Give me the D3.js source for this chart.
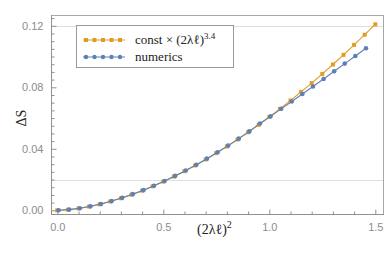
<!DOCTYPE html>
<html><head><meta charset="utf-8">
<script src="https://cdn.jsdelivr.net/npm/d3@7"></script>
<style>
body{margin:0;background:#fff}
svg{display:block}
text.lbl{font-family:"Times New Roman"}
</style>
</head><body>
<script>
// Data
const orangeX = [0,0.05,0.1,0.15,0.2,0.25,0.3,0.35,0.4,0.45,0.5,0.55,0.6,0.65,0.7,0.75,0.8,0.85,0.9,0.95,1.0,1.05,1.1,1.15,1.2,1.25,1.3,1.35,1.4,1.45,1.5];
const orangeY = [0,0.00037,0.00121,0.00241,0.00393,0.00575,0.00784,0.01019,0.01278,0.01562,0.01868,0.02197,0.02547,0.02918,0.0331,0.03722,0.04154,0.04605,0.05075,0.05563,0.0607,0.06595,0.07138,0.07698,0.08275,0.0887,0.09482,0.1011,0.1076,0.1142,0.12094];
const blueX = [0.006,0.056,0.106,0.156,0.206,0.256,0.306,0.356,0.406,0.456,0.506,0.556,0.606,0.656,0.706,0.756,0.806,0.856,0.906,0.956,1.006,1.056,1.106,1.156,1.206,1.256,1.306,1.356,1.406,1.456];
const blueY = [0.00001,0.00045,0.00134,0.00258,0.00414,0.00599,0.00811,0.01049,0.01311,0.01598,0.01907,0.02238,0.02591,0.02965,0.03358,0.03773,0.04207,0.0466,0.05132,0.0565,0.0611,0.066,0.0708,0.0756,0.0805,0.0854,0.0904,0.0954,0.1004,0.1054];
const xTicks = [0.0,0.5,1.0,1.5];
const xTickLabels = ["0.0","0.5","1.0","1.5"];
const yTicks = [0.00,0.04,0.08,0.12];
const yTickLabels = ["0.00","0.04","0.08","0.12"];
const gridY = [0.02,0.12];
const legendLabels = ["const × (2λℓ)", "numerics"];

const W=391,H=264;
const svg=d3.select("body").append("svg").attr("width",W).attr("height",H);
const L=51,R=383,T=15,B=214;
const x=d3.scaleLinear().domain([0,1.5]).range([57.3,375.3]);
const y=d3.scaleLinear().domain([0,0.12]).range([210.3,25.8]);
const orange="#E19C24", blue="#5E81B5";

// grid lines
svg.selectAll(".gy").data(gridY).enter().append("line")
  .attr("x1",L).attr("x2",R).attr("y1",d=>Math.round(y(d))+0.5).attr("y2",d=>Math.round(y(d))+0.5)
  .attr("stroke","#dedede").attr("stroke-width",1);

// frame top/right
svg.append("line").attr("x1",L).attr("x2",R).attr("y1",T+0.5).attr("y2",T+0.5).attr("stroke","#a8a8a8");
svg.append("line").attr("x1",R+0.5).attr("x2",R+0.5).attr("y1",T).attr("y2",B).attr("stroke","#a8a8a8");

// axes
const xMinor=d3.range(0,1.51,0.1).filter(v=>!xTicks.some(t=>Math.abs(t-v)<1e-6));
const yMinor=d3.range(0,0.1251,0.005).filter(v=>!yTicks.some(t=>Math.abs(t-v)<1e-6));
const xAxis=d3.axisBottom(x).tickValues(xTicks).tickFormat((d,i)=>xTickLabels[i]).tickSizeInner(-5).tickSizeOuter(0).tickPadding(9);
const yAxis=d3.axisLeft(y).tickValues(yTicks).tickFormat((d,i)=>yTickLabels[i]).tickSizeInner(-5).tickSizeOuter(0).tickPadding(8);
const gx=svg.append("g").attr("transform",`translate(0,${B+0.5})`).call(xAxis);
const gy=svg.append("g").attr("transform",`translate(${L+0.5},0)`).call(yAxis);
gx.select(".domain").remove(); gy.select(".domain").remove();
svg.append("line").attr("x1",L).attr("x2",R+1).attr("y1",B+0.5).attr("y2",B+0.5).attr("stroke","#909090");
svg.append("line").attr("x1",L+0.5).attr("x2",L+0.5).attr("y1",T).attr("y2",B+1).attr("stroke","#909090");
svg.append("g").attr("transform",`translate(0,${B+0.5})`).call(d3.axisBottom(x).tickValues(xMinor).tickSizeInner(-3).tickSizeOuter(0).tickFormat(""))
  .call(g=>g.select(".domain").remove());
svg.append("g").attr("transform",`translate(${L+0.5},0)`).call(d3.axisLeft(y).tickValues(yMinor).tickSizeInner(-3).tickSizeOuter(0).tickFormat(""))
  .call(g=>g.select(".domain").remove());
svg.selectAll(".tick line").attr("stroke","#909090");
gx.attr("font-family","Liberation Sans").attr("font-size","11px");
gy.attr("font-family","Liberation Sans").attr("font-size","11px");
svg.selectAll(".tick text").attr("fill","#8c8c8c");

// series
const lineGen=(xs,ys)=>d3.line().x((d,i)=>x(xs[i])).y((d,i)=>y(ys[i]))(ys);
svg.append("path").attr("d",lineGen(orangeX,orangeY)).attr("fill","none").attr("stroke",orange).attr("stroke-width",1.1);
svg.selectAll(".op").data(orangeY).enter().append("rect")
  .attr("x",(d,i)=>x(orangeX[i])-2).attr("y",d=>y(d)-2).attr("width",4).attr("height",4).attr("fill",orange);
svg.append("path").attr("d",lineGen(blueX,blueY)).attr("fill","none").attr("stroke",blue).attr("stroke-width",1.1);
svg.selectAll(".bp").data(blueY).enter().append("circle")
  .attr("cx",(d,i)=>x(blueX[i])).attr("cy",d=>y(d)).attr("r",2.3).attr("fill",blue);

// legend
svg.append("rect").attr("x",76.5).attr("y",25.5).attr("width",157).attr("height",42)
  .attr("fill","#fff").attr("stroke","#999").attr("stroke-width",1);
const legRows=[{c:orange,y:40,sq:true},{c:blue,y:57,sq:false}];
legRows.forEach(r=>{
  svg.append("line").attr("x1",83).attr("x2",125).attr("y1",r.y).attr("y2",r.y).attr("stroke",r.c).attr("stroke-width",1.1);
  d3.range(5).forEach(k=>{
    const cx=86+k*8.5;
    if(r.sq) svg.append("rect").attr("x",cx-2).attr("y",r.y-2).attr("width",4).attr("height",4).attr("fill",r.c);
    else svg.append("circle").attr("cx",cx).attr("cy",r.y).attr("r",2.2).attr("fill",r.c);
  });
});

// text labels (serif)
const t1=svg.append("text").attr("class","lbl").attr("x",135).attr("y",44).attr("font-family","Times New Roman").attr("font-size","13px").attr("fill","#222");
t1.append("tspan").text(legendLabels[0]);
t1.append("tspan").attr("dy",-5).attr("font-size","9px").text("3.4");
svg.append("text").attr("class","lbl").attr("x",135).attr("y",61).attr("font-family","Times New Roman").attr("font-size","13px").attr("fill","#222").text(legendLabels[1]);
const xl=svg.append("text").attr("class","lbl").attr("x",197).attr("y",234).attr("font-family","Times New Roman").attr("font-size","14px").attr("fill","#222");
xl.append("tspan").text("(2λℓ)");
xl.append("tspan").attr("dy",-6).attr("font-size","10px").text("2");
svg.append("text").attr("class","lbl").attr("transform","translate(26,118) rotate(-90)").attr("text-anchor","middle")
  .attr("font-family","Times New Roman").attr("font-size","14px").attr("fill","#222").text("ΔS");
</script>
</body></html>
